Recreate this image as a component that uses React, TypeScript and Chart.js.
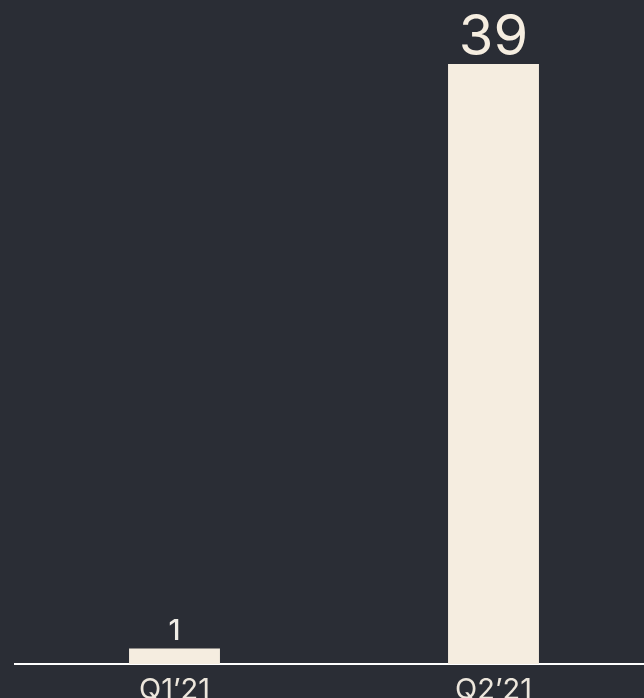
import React, { useEffect, useRef } from "react";
import { Chart, registerables } from "chart.js";

Chart.register(...registerables);

const categories = ["Q1\u201921", "Q2\u201921"];
const values = [1, 39];

const BG = "#2a2d35";
const CREAM = "#f5ede0";
const labelFontSizes = [29, 56];
const labelWeights = [500, 400];
const labelColors = ["#efece6", CREAM];

const valueLabelPlugin = {
  id: "valueLabels",
  afterDatasetsDraw(chart: any) {
    const ctx = chart.ctx;
    const meta = chart.getDatasetMeta(0);
    meta.data.forEach((bar: any, i: number) => {
      ctx.save();
      ctx.font = `${labelWeights[i]} ${labelFontSizes[i]}px Inter, sans-serif`;
      ctx.fillStyle = labelColors[i];
      ctx.textAlign = "center";
      ctx.textBaseline = "alphabetic";
      ctx.fillText(String(values[i]), bar.x, bar.y - 9);
      ctx.restore();
    });
  },
};

export default function App() {
  const ref = useRef<HTMLCanvasElement>(null);
  useEffect(() => {
    document.body.style.margin = "0";
    document.body.style.background = BG;
    document.body.style.overflow = "hidden";
    const chart = new Chart(ref.current!, {
      type: "bar",
      data: {
        labels: categories,
        datasets: [
          {
            data: values,
            backgroundColor: CREAM,
            borderWidth: 0,
            categoryPercentage: 1,
            barPercentage: 0.285,
          },
        ],
      },
      options: {
        animation: false,
        responsive: true,
        maintainAspectRatio: false,
        layout: { padding: { top: 64, left: 15, right: 7, bottom: 0 } },
        plugins: { legend: { display: false }, tooltip: { enabled: false } },
        scales: {
          x: {
            grid: { display: false, drawTicks: false },
            border: { display: true, color: "#ffffff", width: 2 },
            ticks: {
              color: "#ece6dc",
              font: { family: "Inter, sans-serif", size: 29 },
              padding: 9,
            },
            afterFit: (scale: any) => {
              scale.height = 34;
            },
          },
          y: {
            display: false,
            min: 0,
            max: 39,
          },
        },
      },
      plugins: [valueLabelPlugin],
    });
    return () => chart.destroy();
  }, []);
  return (
    <div style={{ width: 660, height: 698, position: "relative", background: BG }}>
      <canvas ref={ref} />
    </div>
  );
}
